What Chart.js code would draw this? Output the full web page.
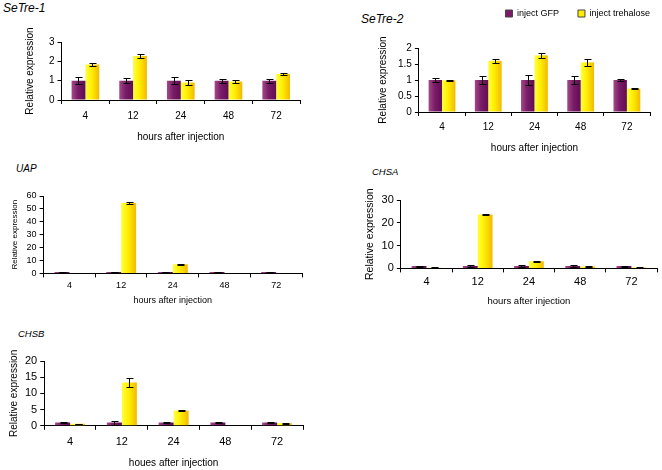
<!DOCTYPE html>
<html>
<head>
<meta charset="utf-8">
<script src="https://cdn.jsdelivr.net/npm/chart.js@4.4.1/dist/chart.umd.min.js"></script>
<style>
  body { margin: 0; background: #fff; }
  #wrap { position: relative; width: 662px; height: 470px; overflow: hidden; font-family: "Liberation Sans", Arial, sans-serif; }
  canvas { position: absolute; }
  .gene { position: absolute; font-style: italic; color: #000; white-space: nowrap; }
</style>
</head>
<body>
<div id="wrap">
  <div class="gene" style="left:3px;top:1px;font-size:12px;">SeTre-1</div>
  <div class="gene" style="left:361px;top:12px;font-size:12px;">SeTre-2</div>
  <div class="gene" style="left:16px;top:163px;font-size:10px;">UAP</div>
  <div class="gene" style="left:372px;top:166px;font-size:9.5px;">CHSA</div>
  <div class="gene" style="left:18px;top:328px;font-size:9.5px;">CHSB</div>
  <canvas id="c1" width="335" height="135" style="left:0px;top:20px"></canvas>
  <canvas id="c2" width="322" height="160" style="left:340px;top:0px"></canvas>
  <canvas id="c3" width="335" height="135" style="left:0px;top:175px"></canvas>
  <canvas id="c4" width="322" height="135" style="left:340px;top:175px"></canvas>
  <canvas id="c5" width="335" height="130" style="left:0px;top:340px"></canvas>
</div>
<script>
// hours after injection
const hours = ['4', '12', '24', '48', '72'];
const seriesNames = ['inject GFP', 'inject trehalose'];

// SeTre-1
const tre1Gfp = [1, 1, 1, 1, 1];
const tre1GfpErr = [0.18, 0.14, 0.18, 0.1, 0.1];
const tre1Treh = [1.84, 2.28, 0.9, 0.96, 1.35];
const tre1TrehErr = [0.07, 0.12, 0.14, 0.1, 0.04];
const tre1Ticks = [0, 1, 2, 3];

// SeTre-2
const tre2Gfp = [1, 1, 1, 1, 1];
const tre2GfpErr = [0.07, 0.13, 0.15, 0.13, 0.04];
const tre2Treh = [0.99, 1.6, 1.77, 1.55, 0.73];
const tre2TrehErr = [0.01, 0.06, 0.08, 0.1, 0.01];
const tre2Ticks = [0, 0.5, 1, 1.5, 2];

// UAP
const uapGfp = [1, 1, 1, 1, 1];
const uapGfpErr = [0.2, 0.2, 0.2, 0.2, 0.2];
const uapTreh = [0.4, 54.6, 7.1, 0.3, 0.3];
const uapTrehErr = [0.1, 0.8, 0.3, 0.1, 0.1];
const uapTicks = [0, 10, 20, 30, 40, 50, 60];

// CHSA
const chsaGfp = [1, 1, 1, 1, 1];
const chsaGfpErr = [0.2, 0.3, 0.3, 0.3, 0.2];
const chsaTreh = [0.3, 23.6, 3.1, 0.8, 0.4];
const chsaTrehErr = [0.1, 0.2, 0.15, 0.2, 0.1];
const chsaTicks = [0, 10, 20, 30];

// CHSB
const chsbGfp = [1, 1, 1, 1, 1];
const chsbGfpErr = [0.2, 0.6, 0.2, 0.2, 0.2];
const chsbTreh = [0.6, 13.4, 4.7, 0.2, 0.8];
const chsbTrehErr = [0.1, 1.3, 0.15, 0.05, 0.1];
const chsbTicks = [0, 5, 10, 15, 20];

const CAT_PCT = 0.58;
const purpleStops = ['#a24a88', '#7a1c68', '#630c55'];
const yellowStops = ['#ffff40', '#ffee00', '#f2b900'];

// horizontal gradient for each bar, placed from the x scale
function barFill(stops) {
  return function (c) {
    const chart = c.chart;
    const xs = chart.scales.x;
    if (!xs || c.dataIndex === undefined || !xs.width) return stops[1];
    const catW = xs.width / chart.data.labels.length;
    const bw = catW * CAT_PCT / 2;
    const mid = xs.getPixelForValue(c.dataIndex) + (c.datasetIndex === 0 ? -bw / 2 : bw / 2);
    const g = chart.ctx.createLinearGradient(mid - bw / 2, 0, mid + bw / 2, 0);
    g.addColorStop(0, stops[0]);
    g.addColorStop(0.45, stops[1]);
    g.addColorStop(1, stops[2]);
    return g;
  };
}

// error bars drawn with the y scale
const errorBars = {
  id: 'errorBars',
  afterDatasetsDraw(chart) {
    const ctx = chart.ctx;
    const ys = chart.scales.y;
    ctx.save();
    ctx.strokeStyle = '#000';
    ctx.lineWidth = 1;
    chart.data.datasets.forEach((ds, i) => {
      chart.getDatasetMeta(i).data.forEach((bar, j) => {
        const v = ds.data[j], e = ds.errors[j];
        const top = Math.round(ys.getPixelForValue(v + e)) + 0.5;
        const bot = Math.round(ys.getPixelForValue(Math.max(0, v - e))) + 0.5;
        const x = Math.round(bar.x) + 0.5;
        ctx.beginPath();
        ctx.moveTo(x, top); ctx.lineTo(x, bot);
        ctx.moveTo(x - 3, top); ctx.lineTo(x + 4, top);
        ctx.moveTo(x - 3, bot); ctx.lineTo(x + 4, bot);
        ctx.stroke();
      });
    });
    ctx.restore();
  }
};

// extra room under the legend of SeTre-2, and push it to the right edge
const legendGap = {
  id: 'legendGap',
  beforeInit(chart) {
    if (!chart.legend) return;
    const fit = chart.legend.fit;
    chart.legend.fit = function () {
      fit.call(this);
      this.height += 20;
    };
  },
  afterLayout(chart) {
    chart.legend.left += 9;
    chart.legend.right += 9;
  }
};

function makeChart(id, gfp, gfpErr, treh, trehErr, ticks, o) {
  const f = (s) => ({ family: '"Liberation Sans", Arial, sans-serif', size: s });
  new Chart(document.getElementById(id), {
    type: 'bar',
    data: {
      labels: hours,
      datasets: [
        { label: seriesNames[0], data: gfp, errors: gfpErr, backgroundColor: barFill(purpleStops) },
        { label: seriesNames[1], data: treh, errors: trehErr, backgroundColor: barFill(yellowStops) }
      ]
    },
    options: {
      responsive: false,
      animation: false,
      layout: { padding: o.pad },
      datasets: { bar: { categoryPercentage: CAT_PCT, barPercentage: 1 } },
      plugins: {
        tooltip: { enabled: false },
        legend: o.legend ? {
          display: true,
          position: 'top',
          align: 'end',
          labels: {
            font: f(9), color: '#000', boxWidth: 7, boxHeight: 7, padding: 9,
            generateLabels: () => [
              { text: seriesNames[0] + '    ', fillStyle: '#7a1c68', strokeStyle: '#444', lineWidth: 1 },
              { text: seriesNames[1], fillStyle: '#ffee00', strokeStyle: '#444', lineWidth: 1 }
            ]
          }
        } : { display: false }
      },
      scales: {
        x: {
          grid: { display: true, drawOnChartArea: false, color: '#000', tickLength: 4 },
          border: { color: '#000' },
          ticks: { font: f(o.tick), color: '#000', padding: o.tp },
          title: { display: true, text: o.xTitle, font: f(o.xt), color: '#000', padding: { top: o.xtPad, bottom: 0 } }
        },
        y: {
          min: ticks[0],
          max: ticks[ticks.length - 1],
          grid: { display: true, drawOnChartArea: false, color: '#000', tickLength: 4 },
          border: { color: '#000' },
          ticks: { font: f(o.tick), color: '#000', padding: 3, stepSize: ticks[1] - ticks[0], autoSkip: false, callback: (v) => String(v) },
          title: { display: true, text: 'Relative expression', font: f(o.yt), color: '#000', padding: { top: 0, bottom: o.ytPad } }
        }
      }
    },
    plugins: o.legend ? [errorBars, legendGap] : [errorBars]
  });
}

makeChart('c1', tre1Gfp, tre1GfpErr, tre1Treh, tre1TrehErr, tre1Ticks,
  { pad: { left: 24, right: 35, top: 22, bottom: 12 }, tick: 10, tp: 6, xt: 10, xtPad: 3, yt: 10, ytPad: 10, xTitle: 'hours after injection' });
makeChart('c2', tre2Gfp, tre2GfpErr, tre2Treh, tre2TrehErr, tre2Ticks,
  { pad: { left: 37, right: 12, top: 0, bottom: 6 }, tick: 10, tp: 5, xt: 10, xtPad: 4, yt: 10, ytPad: 6, xTitle: 'hours after injection', legend: true });
makeChart('c3', uapGfp, uapGfpErr, uapTreh, uapTrehErr, uapTicks,
  { pad: { left: 10, right: 33, top: 21, bottom: 4 }, tick: 9, tp: 3, xt: 9, xtPad: 1, yt: 8, ytPad: 4, xTitle: 'hours after injection' });
makeChart('c4', chsaGfp, chsaGfpErr, chsaTreh, chsaTrehErr, chsaTicks,
  { pad: { left: 24, right: 5, top: 25, bottom: 3 }, tick: 11, tp: 3, xt: 9.5, xtPad: 4, yt: 10.5, ytPad: 2, xTitle: 'hours after injection' });
makeChart('c5', chsbGfp, chsbGfpErr, chsbTreh, chsbTrehErr, chsbTicks,
  { pad: { left: 8, right: 32, top: 21, bottom: 1 }, tick: 11, tp: 6, xt: 10, xtPad: 2, yt: 10, ytPad: 2, xTitle: 'houes after injection' });
</script>
</body>
</html>
